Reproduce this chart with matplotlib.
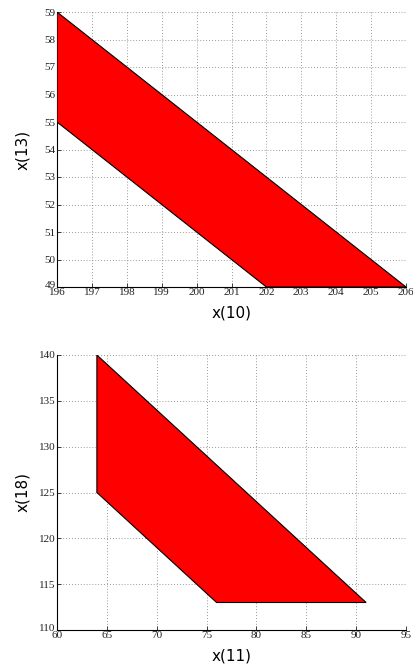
import matplotlib
matplotlib.use("Agg")
import matplotlib.pyplot as plt
from matplotlib.patches import Polygon
from matplotlib.transforms import ScaledTranslation

# Data: polygon vertices of feasible regions
top_x = [196, 196, 202, 206]
top_y = [59, 55, 49, 49]
bot_x = [64, 64, 76, 91]
bot_y = [140, 125, 113, 113]

top_xticks = list(range(196, 207))
top_yticks = list(range(49, 60))
bot_xticks = list(range(60, 96, 5))
bot_yticks = list(range(110, 141, 5))

fig = plt.figure(figsize=(4.14, 6.66), dpi=100)
W, H = 414, 666

def make_ax(left, top, right, bottom):
    return fig.add_axes([left / W, 1 - bottom / H, (right - left) / W, (bottom - top) / H])

ax1 = make_ax(57, 12, 406, 287)
ax2 = make_ax(57, 355, 406, 630)

def style(ax, xs, ys, xt, yt, xl, yl):
    ax.add_patch(Polygon(list(zip(xs, ys)), closed=True, facecolor="#ff0000",
                         edgecolor="black", linewidth=0.8, zorder=3))
    ax.set_xlim(xt[0], xt[-1])
    ax.set_ylim(yt[0], yt[-1])
    ax.set_xticks(xt)
    ax.set_yticks(yt)
    ax.grid(True, linestyle=(0, (1, 2.5)), color="#777777", linewidth=0.6)
    ax.set_axisbelow(True)
    for s in ["top", "right"]:
        ax.spines[s].set_visible(False)
    for s in ["left", "bottom"]:
        ax.spines[s].set_linewidth(0.8)
    ax.tick_params(direction="in", length=3, width=0.6, labelsize=8, pad=1,
                   colors="#222222")
    for lab in ax.get_xticklabels() + ax.get_yticklabels():
        lab.set_fontfamily("Liberation Serif")
    # lift the lowest y tick label a bit, as in the reference
    ylabs = ax.get_yticklabels()
    ylabs[0].set_transform(ylabs[0].get_transform() +
                           ScaledTranslation(0, 2 / 72, fig.dpi_scale_trans))
    ax.set_xlabel(xl, fontsize=11, fontfamily="DejaVu Sans", va="center")
    ax.set_ylabel(yl, fontsize=11, fontfamily="DejaVu Sans", va="center")
    ax.xaxis.set_label_coords(0.5, -0.093)
    ax.yaxis.set_label_coords(-0.10, 0.5)

style(ax1, top_x, top_y, top_xticks, top_yticks, "x(10)", "x(13)")
style(ax2, bot_x, bot_y, bot_xticks, bot_yticks, "x(11)", "x(18)")

fig.savefig("out.png", dpi=100)
